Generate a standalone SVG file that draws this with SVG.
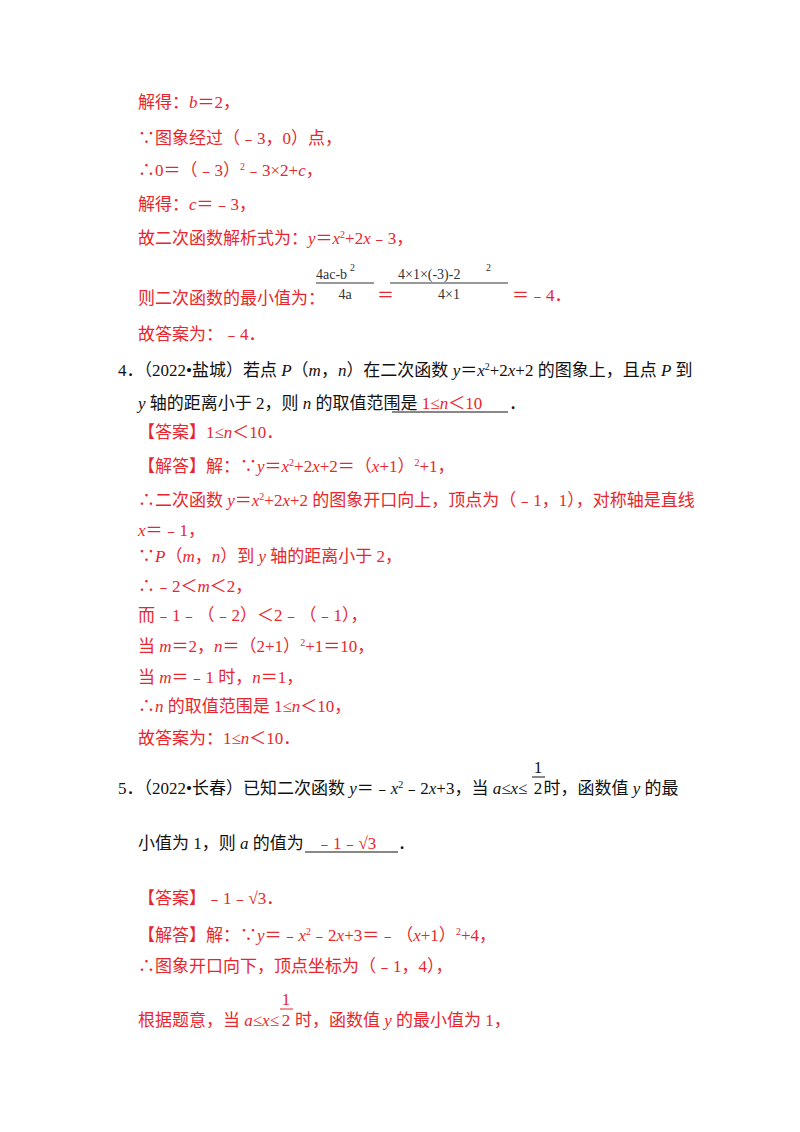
<svg xmlns="http://www.w3.org/2000/svg" width="800" height="1132" viewBox="0 0 800 1132">
<style>
text{font-family:"Liberation Serif","Noto Sans CJK SC",serif;font-size:17px}
.r{fill:#e8262d}
.k{fill:#111}
.i{font-style:italic}
.m{font-family:"Liberation Serif",serif;font-size:14px;fill:#333}
.sup{font-size:10px}
</style>
<rect width="800" height="1132" fill="#fff"/>
<g id="text">
<text class="r" x="138" y="108">解得：<tspan class="i">b</tspan>＝2，</text>
<text class="r" x="138" y="144">∵图象经过（﹣3，0）点，</text>
<text class="r" x="138" y="176">∴0＝（﹣3）<tspan class="sup" dy="-6">2</tspan><tspan dy="6">﹣3×2+</tspan><tspan class="i">c</tspan>，</text>
<text class="r" x="138" y="210">解得：<tspan class="i">c</tspan>＝﹣3，</text>
<text class="r" x="138" y="244">故二次函数解析式为：<tspan class="i">y</tspan>＝<tspan class="i">x</tspan><tspan class="sup" dy="-6">2</tspan><tspan dy="6">+2</tspan><tspan class="i">x</tspan>﹣3，</text>
<text class="r" x="138" y="304">则二次函数的最小值为：</text>
<g id="frac1">
<text class="m" x="316" y="279">4ac-b</text><text class="m" x="350" y="271" style="font-size:10px">2</text>
<line x1="316" y1="283" x2="374" y2="283" stroke="#333" stroke-width="1"/>
<text class="m" x="345" y="299" text-anchor="middle">4a</text>
</g>
<text class="r" x="377" y="301">＝</text>
<g id="frac2">
<text class="m" x="398" y="279">4×1×(-3)-2</text><text class="m" x="486" y="271" style="font-size:10px">2</text>
<line x1="390" y1="283" x2="508" y2="283" stroke="#333" stroke-width="1"/>
<text class="m" x="449" y="299" text-anchor="middle">4×1</text>
</g>
<text class="r" x="512" y="301">＝﹣4．</text>
<text class="r" x="138" y="340">故答案为：﹣4．</text>
<text class="k" x="118" y="376">4．（2022•盐城）若点 <tspan class="i">P</tspan>（<tspan class="i">m</tspan>，<tspan class="i">n</tspan>）在二次函数 <tspan class="i">y</tspan>＝<tspan class="i">x</tspan><tspan class="sup" dy="-6">2</tspan><tspan dy="6">+2</tspan><tspan class="i">x</tspan>+2 的图象上，且点 <tspan class="i">P</tspan> 到</text>
<text class="k" x="138" y="409"><tspan class="i">y</tspan> 轴的距离小于 2，则 <tspan class="i">n</tspan> 的取值范围是</text>
<line x1="392" y1="412" x2="508" y2="412" stroke="#111" stroke-width="1"/>
<text class="r" x="452" y="409" text-anchor="middle">1≤<tspan class="i">n</tspan>＜10</text>
<text class="k" x="509" y="409">．</text>
<text class="r" x="138" y="438">【答案】1≤<tspan class="i">n</tspan>＜10．</text>
<text class="r" x="138" y="472">【解答】解：∵<tspan class="i">y</tspan>＝<tspan class="i">x</tspan><tspan class="sup" dy="-6">2</tspan><tspan dy="6">+2</tspan><tspan class="i">x</tspan>+2＝（<tspan class="i">x</tspan>+1）<tspan class="sup" dy="-6">2</tspan><tspan dy="6">+1，</tspan></text>
<text class="r" x="138" y="506">∴二次函数 <tspan class="i">y</tspan>＝<tspan class="i">x</tspan><tspan class="sup" dy="-6">2</tspan><tspan dy="6">+2</tspan><tspan class="i">x</tspan>+2 的图象开口向上，顶点为（﹣1，1），对称轴是直线</text>
<text class="r" x="138" y="536"><tspan class="i">x</tspan>＝﹣1，</text>
<text class="r" x="138" y="562">∵<tspan class="i">P</tspan>（<tspan class="i">m</tspan>，<tspan class="i">n</tspan>）到 <tspan class="i">y</tspan> 轴的距离小于 2，</text>
<text class="r" x="138" y="592">∴﹣2＜<tspan class="i">m</tspan>＜2，</text>
<text class="r" x="138" y="621">而﹣1﹣（﹣2）＜2﹣（﹣1），</text>
<text class="r" x="138" y="652">当 <tspan class="i">m</tspan>＝2，<tspan class="i">n</tspan>＝（2+1）<tspan class="sup" dy="-6">2</tspan><tspan dy="6">+1＝10，</tspan></text>
<text class="r" x="138" y="683">当 <tspan class="i">m</tspan>＝﹣1 时，<tspan class="i">n</tspan>＝1，</text>
<text class="r" x="138" y="712">∴<tspan class="i">n</tspan> 的取值范围是 1≤<tspan class="i">n</tspan>＜10，</text>
<text class="r" x="138" y="744">故答案为：1≤<tspan class="i">n</tspan>＜10．</text>
<text class="k" x="118" y="794">5．（2022•长春）已知二次函数 <tspan class="i">y</tspan>＝﹣<tspan class="i">x</tspan><tspan class="sup" dy="-6">2</tspan><tspan dy="6">﹣2</tspan><tspan class="i">x</tspan>+3，当 <tspan class="i">a</tspan>≤<tspan class="i">x</tspan>≤<tspan dx="16">时，函数值 </tspan><tspan class="i">y</tspan> 的最</text>
<g id="half1"><text class="k" x="538" y="773" text-anchor="middle">1</text><line x1="532" y1="777" x2="545" y2="777" stroke="#111"/><text class="k" x="538" y="794" text-anchor="middle">2</text></g>
<text class="k" x="138" y="849">小值为 1，则 <tspan class="i">a</tspan> 的值为</text>
<line x1="305" y1="852" x2="398" y2="852" stroke="#111" stroke-width="1"/>
<text class="r" x="316" y="849">﹣1﹣√3</text>
<text class="k" x="398" y="849">．</text>
<text class="r" x="138" y="904">【答案】﹣1﹣√3．</text>
<text class="r" x="138" y="941">【解答】解：∵<tspan class="i">y</tspan>＝﹣<tspan class="i">x</tspan><tspan class="sup" dy="-6">2</tspan><tspan dy="6">﹣2</tspan><tspan class="i">x</tspan>+3＝﹣（<tspan class="i">x</tspan>+1）<tspan class="sup" dy="-6">2</tspan><tspan dy="6">+4，</tspan></text>
<text class="r" x="138" y="972">∴图象开口向下，顶点坐标为（﹣1，4），</text>
<text class="r" x="138" y="1026">根据题意，当 <tspan class="i">a</tspan>≤<tspan class="i">x</tspan>≤<tspan dx="16">时，函数值 </tspan><tspan class="i">y</tspan> 的最小值为 1，</text>
<g id="half2"><text class="r" x="286" y="1005" text-anchor="middle">1</text><line x1="280" y1="1009" x2="293" y2="1009" stroke="#e8262d"/><text class="r" x="286" y="1026" text-anchor="middle">2</text></g>
</g>
</svg>
